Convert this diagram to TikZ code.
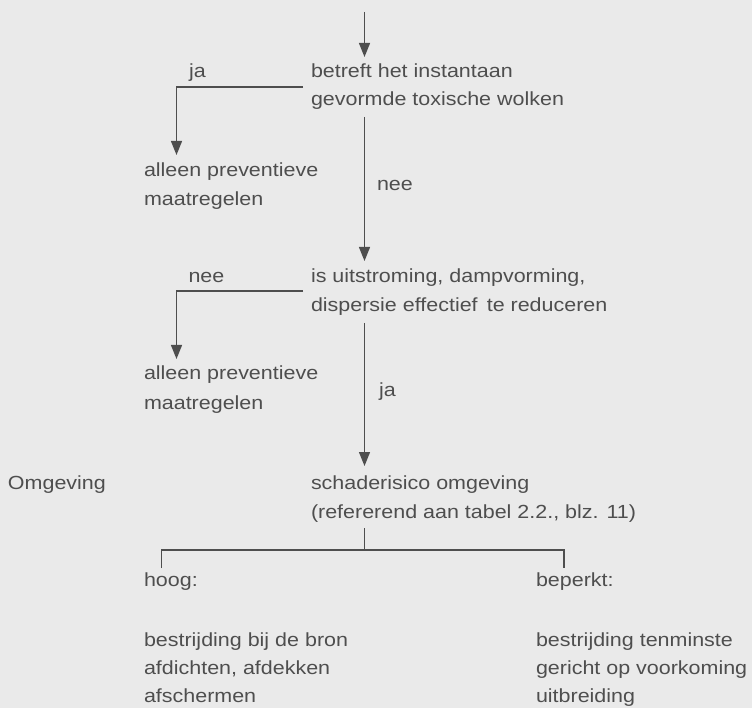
\documentclass[tikz,border=0pt]{standalone}
\usepackage{fontspec}
\setmainfont{Liberation Sans}[FakeStretch=1.13]
\usetikzlibrary{arrows.meta}
\definecolor{bg}{HTML}{EAEAEA}
\definecolor{ink}{HTML}{4E4E4E}
\begin{document}
\begin{tikzpicture}[x=1pt,y=-1pt,
  txt/.style={anchor=base west,inner sep=0pt,outer sep=0pt,text height=13pt,text depth=4pt,
    text=ink,font=\fontsize{19}{22}\selectfont},
  ln/.style={draw=ink,line width=1.2pt},
  arr/.style={ln,-{Triangle[width=11pt,length=14pt]}}]
\useasboundingbox[fill=bg] (0,0) rectangle (752,708);
% texts
\node[txt] (q1a) at (311,78) {betreft het instantaan};
\node[txt] (q1b) at (311,106) {gevormde toxische wolken};
\node[txt] (ja1) at (189,78) {ja};
\node[txt] (al1) at (144,177) {alleen preventieve};
\node[txt] (mr1) at (144,206) {maatregelen};
\node[txt] (nee1) at (377,191) {nee};
\node[txt] (q2a) at (311,283) {is uitstroming, dampvorming,};
\node[txt] (q2b) at (311,312) {dispersie effectief\, te reduceren};
\node[txt] (nee2) at (188.5,283) {nee};
\node[txt] (al2) at (144,380) {alleen preventieve};
\node[txt] (mr2) at (144,409) {maatregelen};
\node[txt] (ja2) at (379,396) {ja};
\node[txt] (omg) at (8,489) {Omgeving};
\node[txt] (s1) at (311,489) {schaderisico omgeving};
\node[txt] (s2) at (311,518) {(refererend aan tabel 2.2., blz. 11)};
\node[txt] (hoog) at (144,586) {hoog:};
\node[txt] (bep) at (536,586) {beperkt:};
\node[txt] (h1) at (144,646) {bestrijding bij de bron};
\node[txt] (h2) at (144,674) {afdichten, afdekken};
\node[txt] (h3) at (144,702) {afschermen};
\node[txt] (b1) at (536,646) {bestrijding tenminste};
\node[txt] (b2) at (536,674) {gericht op voorkoming};
\node[txt] (b3) at (536,702) {uitbreiding};
% connectors
\coordinate (top) at (364.5,12);
\draw[arr] (top) -- ([yshift=8pt]top |- q1a.north);
\draw[arr] ([xshift=-8pt,yshift=-9pt]q1a.base west) -| ([xshift=32.5pt,yshift=9pt]al1.north west);
\draw[arr] ([xshift=53.5pt,yshift=-7pt]q1b.south west) -- ([xshift=53.5pt,yshift=9pt]q2a.north west);
\draw[arr] ([xshift=-8pt,yshift=-8pt]q2a.base west) -| ([xshift=32.5pt,yshift=8pt]al2.north west);
\draw[arr] ([xshift=53.5pt,yshift=-7pt]q2b.south west) -- ([xshift=53.5pt,yshift=10pt]s1.north west);
\draw[ln] ([xshift=53.5pt,yshift=-6pt]s2.south west) -- ([xshift=53.5pt,yshift=-28pt]s2.south west);
\draw[ln] ([xshift=17.5pt,yshift=5pt]hoog.north west) |- ([xshift=28pt,yshift=23pt]bep.north west)
  -- ([xshift=28pt,yshift=5pt]bep.north west);
\end{tikzpicture}
\end{document}
